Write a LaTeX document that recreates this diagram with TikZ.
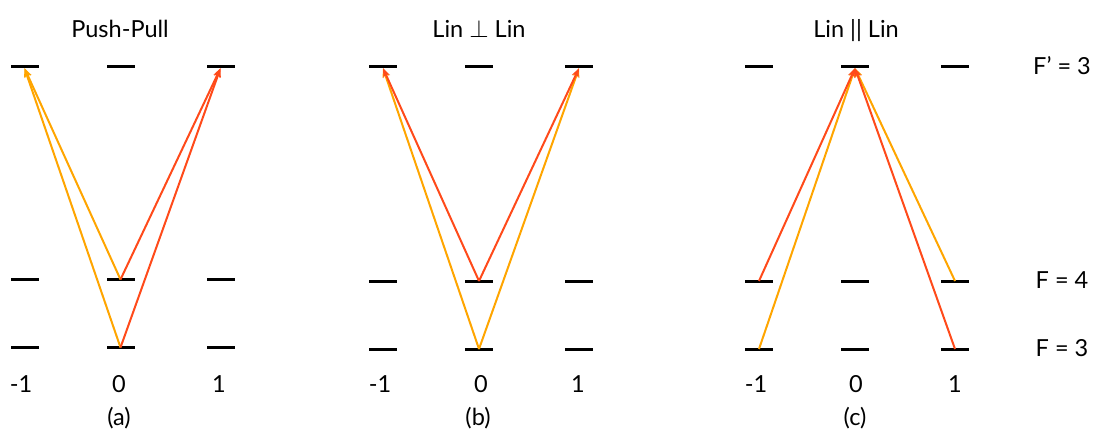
\documentclass[tikz,border=0pt]{standalone}
\usepackage{fontspec}
\setmainfont{Lato}
\usetikzlibrary{arrows.meta}
\definecolor{lineYel}{HTML}{FFA500}
\definecolor{lineRed}{HTML}{FF4A1A}
\begin{document}
\begin{tikzpicture}[x=1pt,y=-1pt,
  level/.style={fill=black,draw=none,inner sep=0pt,minimum width=28pt,minimum height=3pt},
  trans/.style={line width=2pt,-{Stealth[length=9pt,width=7pt,inset=2.5pt]}},
  yel/.style={trans,draw=lineYel,fill=lineYel},
  red/.style={trans,draw=lineRed,fill=lineRed},
  lbl/.style={font=\fontsize{23.5}{26}\selectfont,anchor=base,inner sep=0pt}]
\useasboundingbox (0,0) rectangle (1095,433);
% panel (a)
\node[level] (aTl) at (24.5,66.5) {};
\node[level] (aTm) at (120.5,66.5) {};
\node[level] (aTr) at (220.5,66.5) {};
\node[level] (aMl) at (24.5,279.5) {};
\node[level] (aMm) at (120.5,279.5) {};
\node[level] (aMr) at (220.5,279.5) {};
\node[level] (aBl) at (24.5,347.5) {};
\node[level] (aBm) at (120.5,347.5) {};
\node[level] (aBr) at (220.5,347.5) {};
% panel (b)
\node[level] (bTl) at (383,66.5) {};
\node[level] (bTm) at (479,66.5) {};
\node[level] (bTr) at (579,66.5) {};
\node[level] (bMl) at (383,281) {};
\node[level] (bMm) at (479,281) {};
\node[level] (bMr) at (579,281) {};
\node[level] (bBl) at (383,349) {};
\node[level] (bBm) at (479,349) {};
\node[level] (bBr) at (579,349) {};
% panel (c)
\node[level] (cTl) at (759,66.5) {};
\node[level] (cTm) at (855,66.5) {};
\node[level] (cTr) at (955,66.5) {};
\node[level] (cMl) at (759,281) {};
\node[level] (cMm) at (855,281) {};
\node[level] (cMr) at (955,281) {};
\node[level] (cBl) at (759,349) {};
\node[level] (cBm) at (855,349) {};
\node[level] (cBr) at (955,349) {};
% transitions (a)
\draw[yel] (aBm.center) -- (aTl.south);
\draw[yel] (aMm.center) -- (aTl.south);
\draw[red] (aMm.center) -- (aTr.south);
\draw[red] (aBm.center) -- (aTr.south);
% transitions (b)
\draw[yel] (bBm.center) -- (bTl.south);
\draw[yel] (bBm.center) -- (bTr.south);
\draw[red] (bMm.center) -- (bTl.south);
\draw[red] (bMm.center) -- (bTr.south);
% transitions (c)
\draw[yel] (cBl.center) -- (cTm.south);
\draw[yel] (cMr.center) -- (cTm.south);
\draw[red] (cMl.center) -- (cTm.south);
\draw[red] (cBr.center) -- (cTm.south);
% titles
\node[lbl] (tA) at (120,37.5) {Push-Pull};
\node[lbl] (tB) at (479,37.5) {Lin $\perp$ Lin};
\node[lbl] (tC) at (856,37.5) {Lin || Lin};
% m labels
\node[lbl] (mAl) at (21,392) {-1};
\node[lbl] (mAm) at (119,392) {0};
\node[lbl] (mAr) at (219,392) {1};
\node[lbl] (mBl) at (380,392) {-1};
\node[lbl] (mBm) at (481,392) {0};
\node[lbl] (mBr) at (578,392) {1};
\node[lbl] (mCl) at (756,392) {-1};
\node[lbl] (mCm) at (856,392) {0};
\node[lbl] (mCr) at (955,392) {1};
\node[lbl] (pA) at (119,425) {(a)};
\node[lbl] (pB) at (478,425) {(b)};
\node[lbl] (pC) at (855,425) {(c)};
% F labels
\node[lbl] (fT) at (1062,75) {F’ = 3};
\node[lbl] (fM) at (1062,288) {F = 4};
\node[lbl] (fB) at (1062,356) {F = 3};
\end{tikzpicture}
\end{document}
